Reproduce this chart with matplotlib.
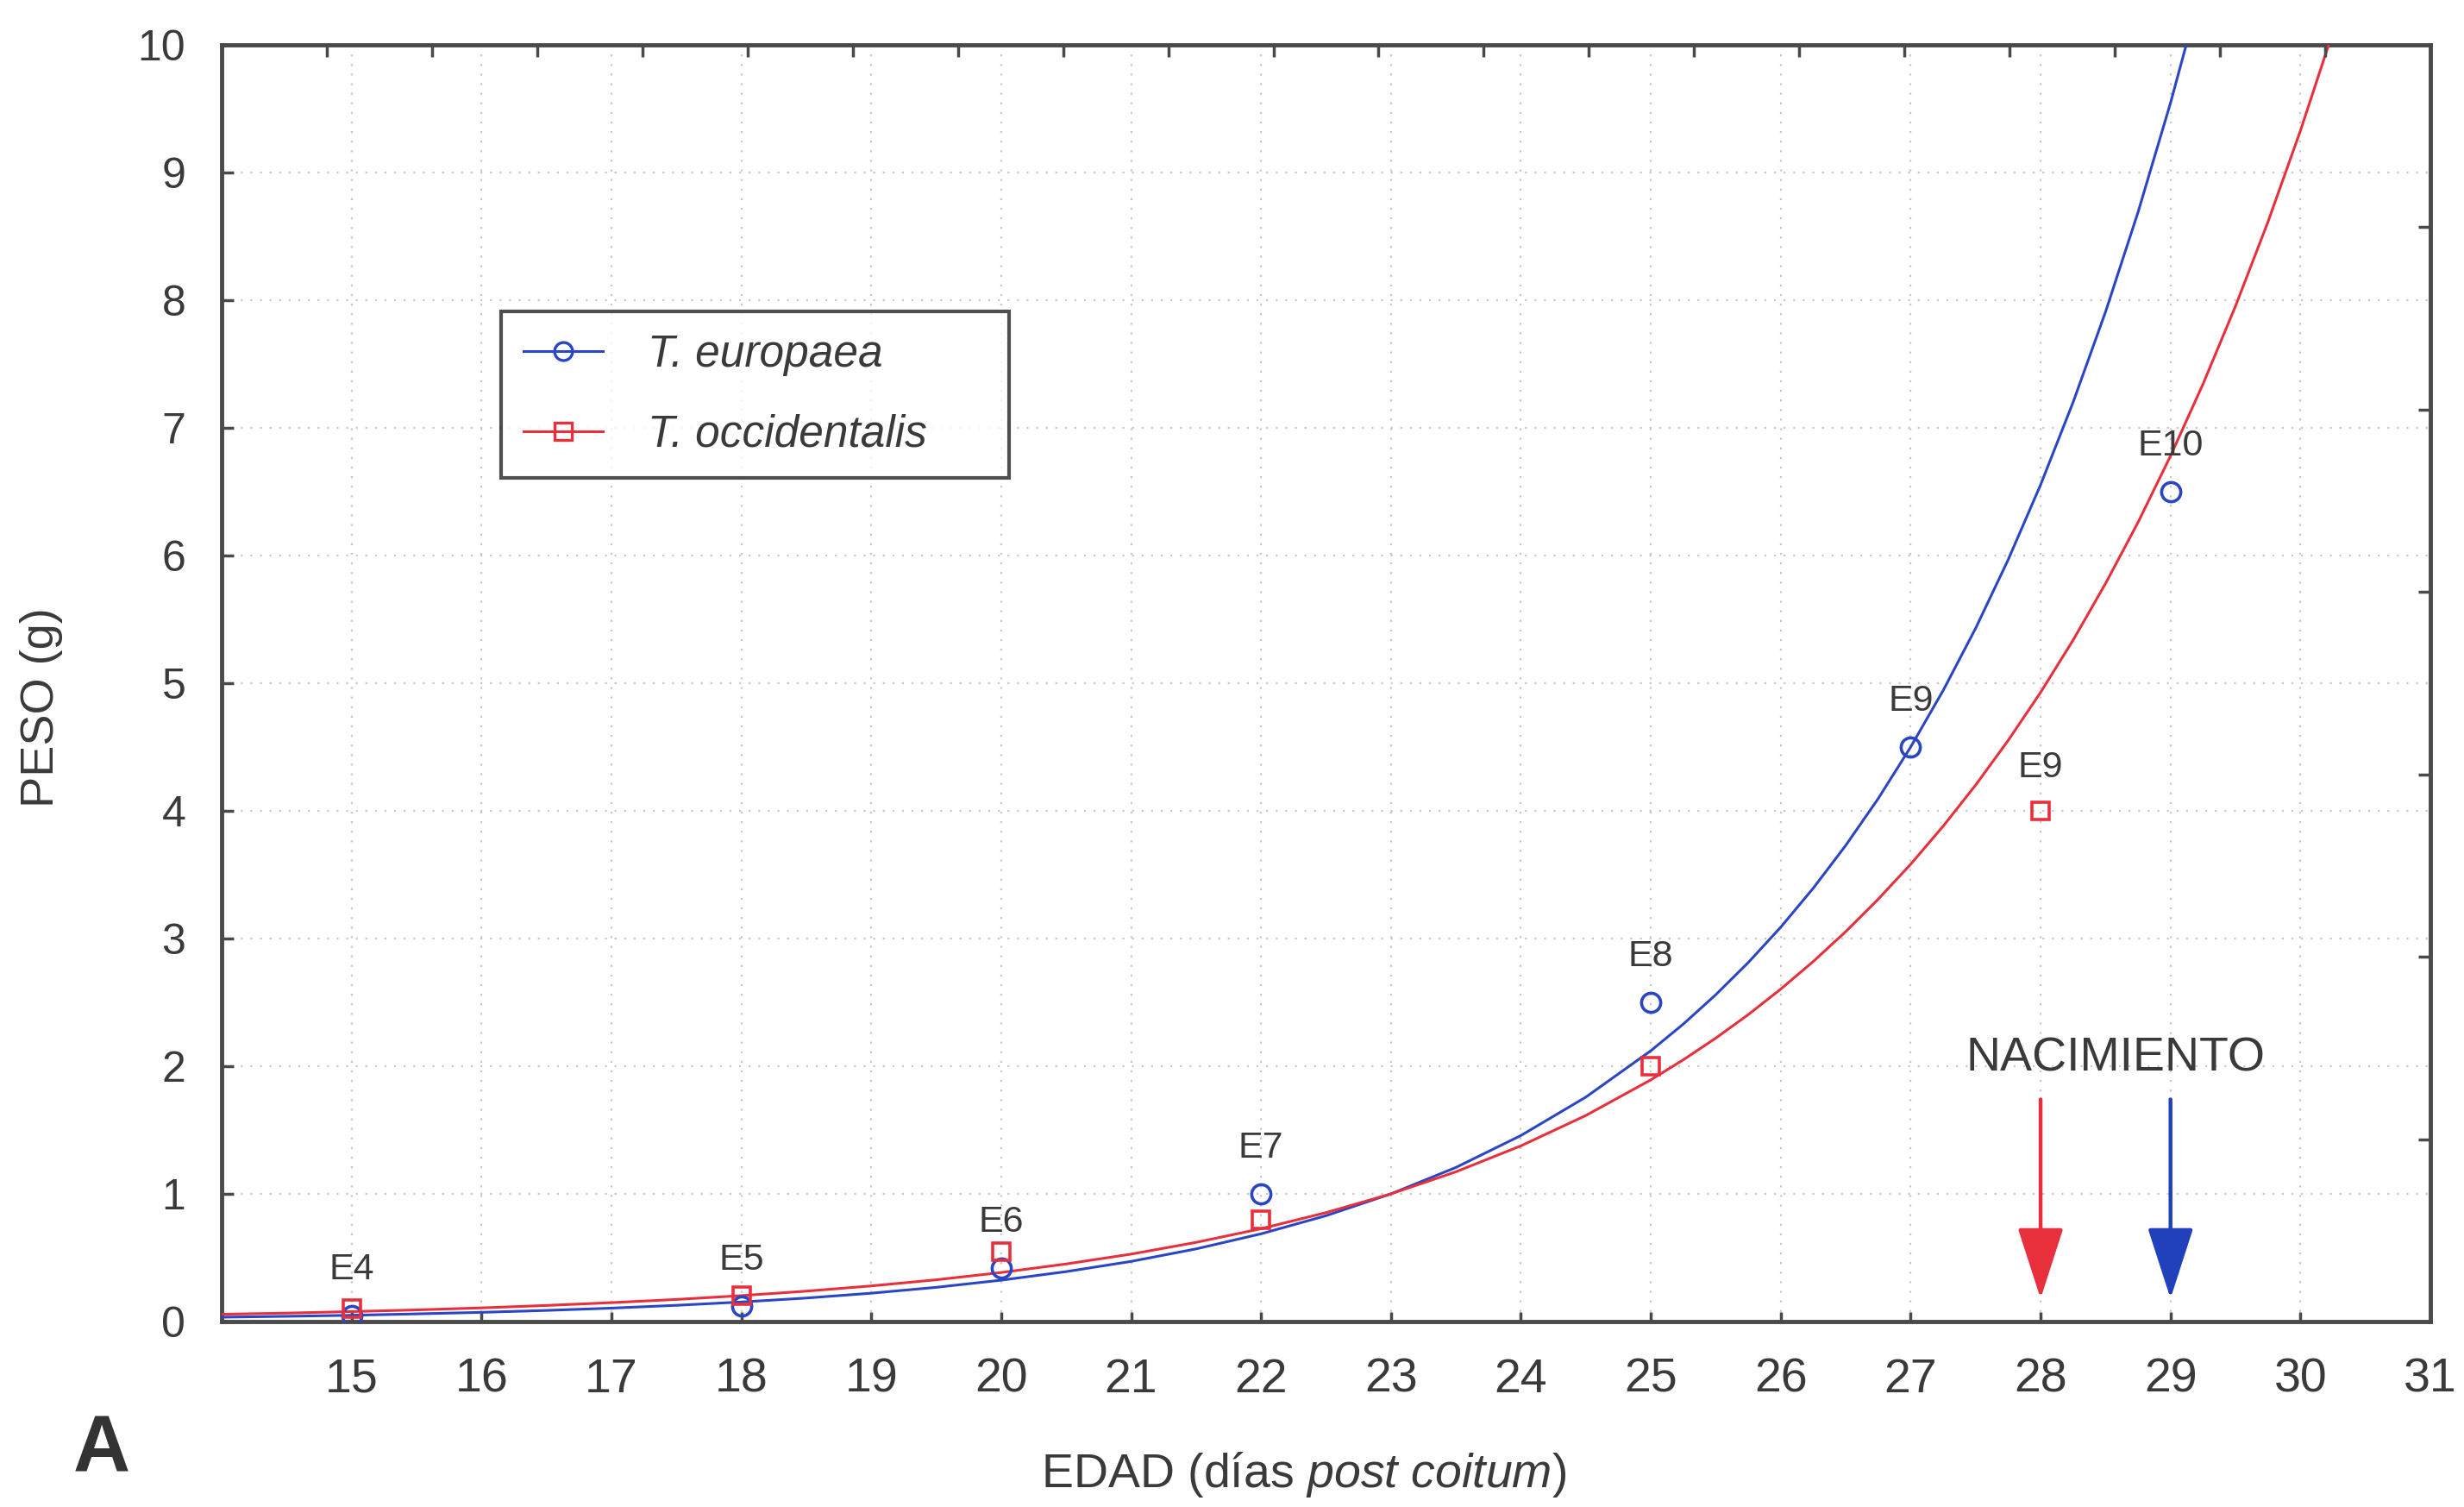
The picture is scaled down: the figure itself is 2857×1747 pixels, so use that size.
import numpy as np
import matplotlib
matplotlib.use("Agg")
import matplotlib.pyplot as plt
from matplotlib.lines import Line2D

# ---------------- data ----------------
# fitted growth curves
curve_eu_x = [14, 14.5, 15, 15.5, 16, 16.5, 17, 17.5, 18, 18.5, 19, 19.5, 20,
              20.5, 21, 21.5, 22, 22.5, 23, 23.5, 24, 24.5, 25, 25.25, 25.5,
              25.75, 26, 26.25, 26.5, 26.75, 27, 27.25, 27.5, 27.75, 28, 28.25,
              28.5, 28.75, 29, 29.25]
curve_eu_y = [0.034, 0.041, 0.049, 0.060, 0.072, 0.087, 0.105, 0.127, 0.153,
              0.184, 0.222, 0.268, 0.324, 0.391, 0.471, 0.569, 0.687, 0.829,
              1.0, 1.207, 1.457, 1.758, 2.121, 2.330, 2.560, 2.812, 3.089,
              3.394, 3.729, 4.096, 4.500, 4.943, 5.430, 5.966, 6.554, 7.200,
              7.909, 8.689, 9.545, 10.486]
curve_oc_x = [14, 14.5, 15, 15.5, 16, 16.5, 17, 17.5, 18, 18.5, 19, 19.5, 20,
              20.5, 21, 21.5, 22, 22.5, 23, 23.5, 24, 24.5, 25, 25.25, 25.5,
              25.75, 26, 26.25, 26.5, 26.75, 27, 27.25, 27.5, 27.75, 28, 28.25,
              28.5, 28.75, 29, 29.25, 29.5, 29.75, 30, 30.25]
curve_oc_y = [0.057, 0.066, 0.078, 0.091, 0.107, 0.126, 0.148, 0.173, 0.203,
              0.238, 0.279, 0.327, 0.384, 0.451, 0.528, 0.620, 0.727, 0.853,
              1.0, 1.173, 1.376, 1.614, 1.893, 2.050, 2.220, 2.404, 2.604,
              2.820, 3.054, 3.308, 3.582, 3.880, 4.202, 4.551, 4.928, 5.337,
              5.781, 6.260, 6.780, 7.343, 7.953, 8.613, 9.328, 10.102]

# observed points
eu_x = [15, 18, 20, 22, 25, 27, 29]
eu_y = [0.05, 0.12, 0.42, 1.0, 2.5, 4.5, 6.5]
eu_labels = ['E4', 'E5', 'E6', 'E7', 'E8', 'E9', 'E10']
oc_x = [15, 18, 20, 22, 25, 28]
oc_y = [0.1, 0.2, 0.55, 0.8, 2.0, 4.0]
oc_labels = ['', '', '', '', '', 'E9']

# birth days
birth_oc = 28
birth_eu = 29

x_ticks = list(range(15, 32))
y_ticks = list(range(0, 11))

# ---------------- style ----------------
BLUE = '#2a46c4'
RED = '#e8303c'
BLUE_ARROW = '#2040bc'
RED_ARROW = '#e8303c'
TXT = '#3a3a3a'
SPINE = '#4a4a4a'

plt.rcParams['font.family'] = ['Liberation Sans', 'DejaVu Sans']
plt.rcParams['mathtext.fontset'] = 'custom'
plt.rcParams['mathtext.rm'] = 'Liberation Sans'
plt.rcParams['mathtext.it'] = 'Liberation Sans:italic'

W, H = 2857, 1747
fig = plt.figure(figsize=(W / 100, H / 100), dpi=100)
fig.patch.set_facecolor('white')
ax = fig.add_axes([257 / W, 1 - 1532 / H, (2818 - 257) / W, (1532 - 52) / H])

ax.set_xlim(14, 31)
ax.set_ylim(0, 10)

# grid
for xv in x_ticks[:-1]:
    ax.axvline(xv, color='#c8c8c8', lw=1.6, ls=(0, (1, 4)), zorder=0)
for yv in y_ticks[1:-1]:
    ax.axhline(yv, color='#c8c8c8', lw=1.6, ls=(0, (1, 4)), zorder=0)

# curves
ax.plot(curve_eu_x, curve_eu_y, color=BLUE, lw=2.2, zorder=3)
ax.plot(curve_oc_x, curve_oc_y, color=RED, lw=2.2, zorder=3)

# points
ax.plot(eu_x, eu_y, ls='none', marker='o', ms=16, mfc='none', mec=BLUE,
        mew=2.6, zorder=4)
ax.plot(oc_x, oc_y, ls='none', marker='s', ms=15, mfc='none', mec=RED,
        mew=2.6, zorder=5)

# stage labels
for xv, yv, lab in zip(eu_x, eu_y, eu_labels):
    if lab:
        ax.annotate(lab, (xv, yv), xytext=(0, 38), textcoords='offset points',
                    ha='center', va='center', fontsize=31, color=TXT, zorder=6)
for xv, yv, lab in zip(oc_x, oc_y, oc_labels):
    if lab:
        ax.annotate(lab, (xv, yv), xytext=(0, 36), textcoords='offset points',
                    ha='center', va='center', fontsize=31, color=TXT, zorder=6)

# birth arrows
for xv, col in ((birth_oc, RED_ARROW), (birth_eu, BLUE_ARROW)):
    ax.annotate('', xy=(xv, 0.18), xytext=(xv, 1.74),
                arrowprops=dict(arrowstyle='-|>,head_length=1.3,head_width=0.42',
                                color=col, lw=3.2, mutation_scale=40,
                                shrinkA=0, shrinkB=0), zorder=6)
ax.text(28.58, 2.06, 'NACIMIENTO', ha='center', va='center', fontsize=40,
        color=TXT)

# axes styling
for s in ax.spines.values():
    s.set_color(SPINE)
    s.set_linewidth(3.5)
ax.set_xticks(x_ticks)
ax.set_yticks(y_ticks)
ax.tick_params(axis='x', direction='in', length=8, width=2.5, color=SPINE,
               labelsize=40, labelcolor=TXT, pad=30)
ax.tick_params(axis='y', direction='in', length=10, width=2.5, color=SPINE,
               labelsize=36, labelcolor=TXT, pad=30)

# top and right tick marks (independent scales of the frame)
axt = ax.twiny()
axt.set_xlim(0, 21)
axt.set_xticks(np.arange(1, 21))
axt.tick_params(axis='x', direction='in', length=10, width=2.5, color=SPINE,
                labeltop=False)
axr = ax.twinx()
axr.set_ylim(0, 7)
axr.set_yticks(np.arange(1, 7))
axr.tick_params(axis='y', direction='in', length=10, width=2.5, color=SPINE,
                labelright=False)
for a in (axt, axr):
    for s in a.spines.values():
        s.set_visible(False)

# axis labels
ax.set_ylabel('PESO (g)', fontsize=39, color=TXT)
ax.yaxis.set_label_coords(-0.0718, 0.481)
ax.set_xlabel(r'EDAD (días $\mathit{post\ coitum}$)', fontsize=40, color=TXT,
              va='center')
ax.xaxis.set_label_coords(0.490, -0.1196)

# legend
handles = [
    Line2D([], [], color=BLUE, lw=2.2, marker='o', ms=15, mfc='none', mec=BLUE, mew=2.4),
    Line2D([], [], color=RED, lw=2.2, marker='s', ms=14, mfc='none', mec=RED, mew=2.4),
]
leg = ax.legend(handles, ['T. europaea', 'T. occidentalis'],
                loc='upper left', bbox_to_anchor=(0.1265, 0.661, 0.230, 0.130),
                mode='expand', frameon=True, fancybox=False,
                handlelength=1.8, handletextpad=1.0, borderpad=0.5,
                labelspacing=0.85, borderaxespad=0,
                prop={'style': 'italic', 'size': 37})
leg.get_frame().set_edgecolor('#222222')
leg.get_frame().set_linewidth(3)
for t in leg.get_texts():
    t.set_color(TXT)

# panel letter
fig.text(118 / W, 1 - 1682 / H, 'A', fontsize=66, fontweight='bold',
         color='#333333', ha='center', va='center')

fig.savefig('out.png', dpi=100, facecolor='white')
